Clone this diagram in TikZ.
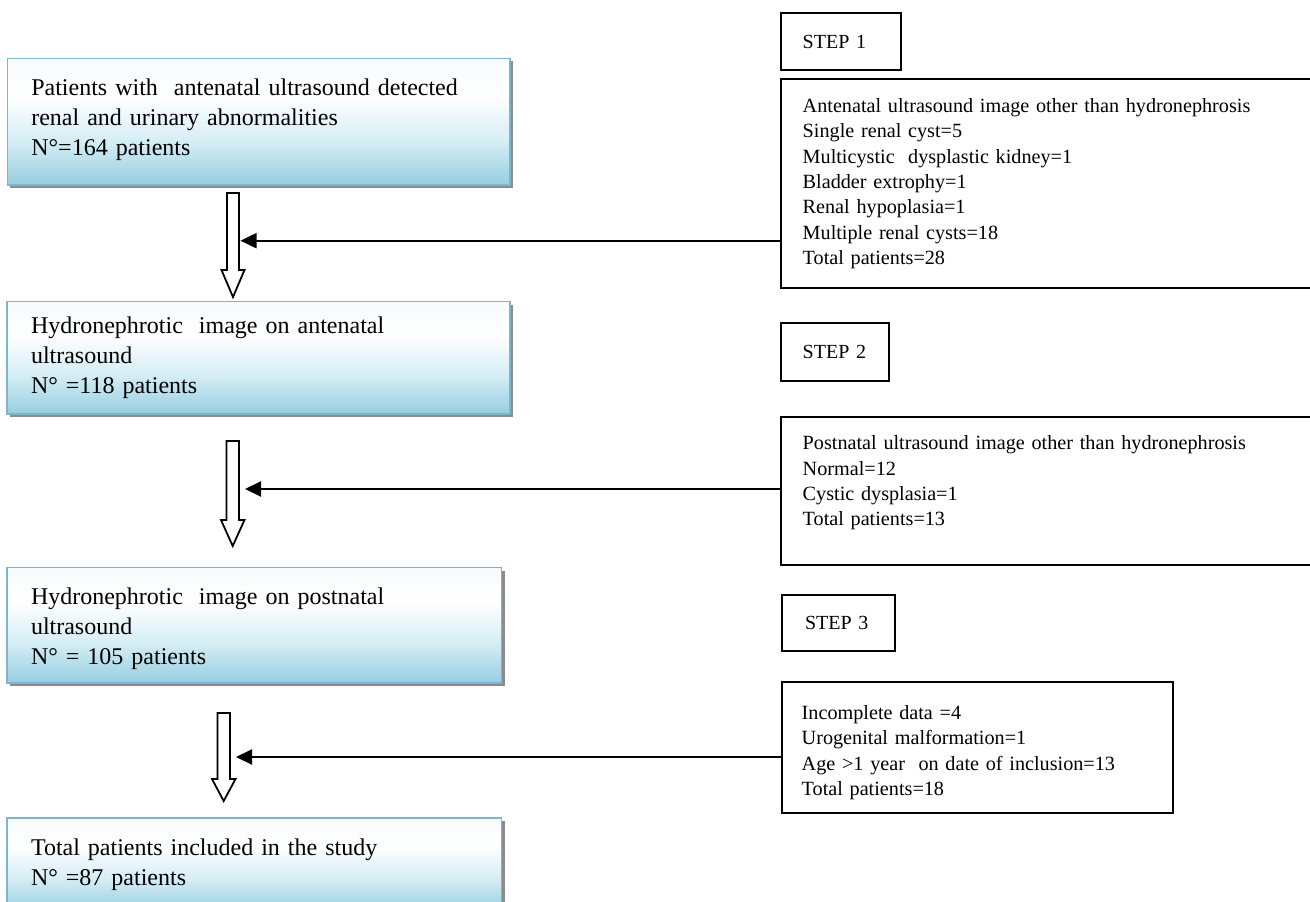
\documentclass[tikz,border=0pt]{standalone}
\usepackage{fontspec}
\setmainfont{Liberation Serif}
\usetikzlibrary{arrows.meta,shadows}
\definecolor{lbblue}{HTML}{96CEE0}
\definecolor{lbpale}{HTML}{D4EDF5}
\definecolor{lbtop}{HTML}{F6FBFD}
\definecolor{lbborder}{HTML}{7FB5C8}
\pgfdeclareverticalshading{lbshade}{100bp}{color(0bp)=(lbblue); color(25bp)=(lbblue); color(42bp)=(lbpale); color(60bp)=(white); color(75bp)=(lbtop); color(100bp)=(lbtop)}
\begin{document}
\begin{tikzpicture}[x=1pt,y=-1pt,
  every node/.style={inner sep=0pt, outer sep=0pt},
  leftbox/.style={draw=lbborder, line width=1.5pt, shade, shading=lbshade,
    drop shadow={shadow xshift=3pt, shadow yshift=-3pt, fill=black!60, opacity=0.75},
    anchor=north west, inner xsep=24pt, align=left,
    font=\fontsize{24}{30}\selectfont},
  infobox/.style={draw, line width=2.2pt, fill=white, anchor=north west, align=left,
    font=\fontsize{20.2}{25.3}\selectfont},
  stepbox/.style={draw, line width=2.2pt, fill=white, anchor=north west, align=left,
    font=\fontsize{20}{24}\selectfont},
  hollow/.style={draw=black, fill=white, line width=1.8pt, line join=miter},
  conn/.style={draw, line width=2pt, -{Triangle[length=16pt,width=15pt]}}]
\useasboundingbox (0,0) rectangle (1310,902);
\fill[white] (0,0) rectangle (1310,902);

% left flow boxes
\node[leftbox, minimum height=126.7pt, text width=454.7pt] (lb1) at (7.3,58.3)
  {Patients with~ antenatal ultrasound detected\\ renal and urinary abnormalities\\ N°=164 patients\rule[-8.5pt]{0pt}{1pt}};
\node[leftbox, minimum height=112.3pt, text width=455pt] (lb2) at (7,301.7)
  {Hydronephrotic~ image on antenatal\\ ultrasound\\ N° =118 patients};
\node[leftbox, minimum height=115.3pt, text width=446.7pt] (lb3) at (7,567.7)
  {\rule{0pt}{24pt}Hydronephrotic~ image on postnatal\\ ultrasound\\ N° = 105 patients};
\node[leftbox, minimum height=93pt, text width=446.7pt] (lb4) at (7,818)
  {Total patients included in the study\\ N° =87 patients};

% step labels
\node[stepbox, inner xsep=22pt, minimum height=56.7pt, text width=76pt] (sb1) at (780.7,13.3) {STEP 1};
\node[stepbox, inner xsep=22pt, minimum height=57.7pt, text width=64.3pt] (sb2) at (780.7,323.3) {STEP 2};
\node[stepbox, inner xsep=23.3pt, minimum height=56pt, text width=66.7pt] (sb3) at (781.7,595) {STEP 3};

% exclusion boxes
\node[infobox, inner xsep=22pt, minimum height=209.3pt, text width=496pt] (rb1) at (780.7,79)
  {Antenatal ultrasound image other than hydronephrosis\\
   Single renal cyst=5\\
   Multicystic~ dysplastic kidney=1\\
   Bladder extrophy=1\\
   Renal hypoplasia=1\\
   Multiple renal cysts=18\\
   Total patients=28};
\node[infobox, inner xsep=22pt, minimum height=147.7pt, text width=496pt] (rb2) at (780.7,417.3)
  {Postnatal ultrasound image other than hydronephrosis\\
   Normal=12\\
   Cystic dysplasia=1\\
   Total patients=13\rule[-20.5pt]{0pt}{1pt}};
\node[infobox, inner xsep=20pt, minimum height=131.6pt, text width=351.3pt] (rb3) at (781.7,681.7)
  {\rule{0pt}{24pt}Incomplete data =4\\
   Urogenital malformation=1\\
   Age >1 year~ on date of inclusion=13\\
   Total patients=18};

% hollow down arrows between the left boxes
\draw[hollow] (227,193) -- (239,193) -- (239,270) -- (244.5,270) -- (233,297) -- (221.5,270) -- (227,270) -- cycle;
\draw[hollow] (226.5,441) -- (239,441) -- (239,520) -- (244.5,520) -- (232.7,546) -- (221,520) -- (226.5,520) -- cycle;
\draw[hollow] (217.5,713) -- (230,713) -- (230,779) -- (235.5,779) -- (223.7,801) -- (212,779) -- (217.5,779) -- cycle;

% connector ends
\coordinate (t1) at (240.5,240.7);
\coordinate (t2) at (245,489);
\coordinate (t3) at (236,757);

\draw[conn] (rb1.west |- t1) -- (t1);
\draw[conn] (rb2.west |- t2) -- (t2);
\draw[conn] (rb3.west |- t3) -- (t3);
\end{tikzpicture}
\end{document}
